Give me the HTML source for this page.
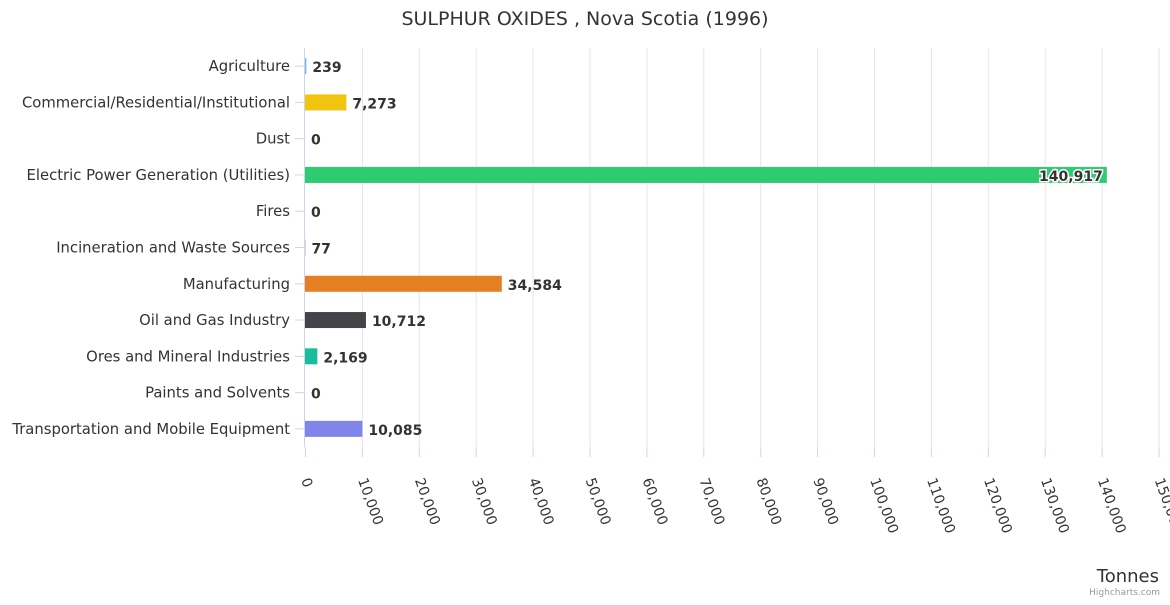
<!DOCTYPE html>
<html><head><meta charset="utf-8"><style>
body{margin:0;background:#fff;font-family:"Liberation Sans","DejaVu Sans",sans-serif}
svg text{font-family:"DejaVu Sans","Liberation Sans",sans-serif}
</style></head><body>
<svg id="c" width="1170" height="600" xmlns="http://www.w3.org/2000/svg">
<text x="585" y="25" text-anchor="middle" font-size="19" fill="#333">SULPHUR OXIDES , Nova Scotia (1996)</text>
<g id="grid"></g><g id="bars"></g><g id="cats"></g><g id="ticks"></g>
<text x="1159" y="582" text-anchor="end" font-size="18" fill="#333">Tonnes</text>
<text x="1160" y="595" text-anchor="end" font-size="9" fill="#999">Highcharts.com</text>
</svg>
<script>
const categories=["Agriculture","Commercial/Residential/Institutional","Dust","Electric Power Generation (Utilities)","Fires","Incineration and Waste Sources","Manufacturing","Oil and Gas Industry","Ores and Mineral Industries","Paints and Solvents","Transportation and Mobile Equipment"];
const values=[239,7273,0,140917,0,77,34584,10712,2169,0,10085];
const colors=["#7cb5ec","#f1c40f","#2c3e50","#2ecc71","#e74c3c","#95a5a6","#e67e22","#434348","#1abc9c","#8e44ad","#8085e9"];
const tickValues=[0,10000,20000,30000,40000,50000,60000,70000,80000,90000,100000,110000,120000,130000,140000,150000];
const X0=305,X1=1158.5,XMAX=150000,Y0=48,Y1=447;
const x=v=>X0+(X1-X0)*v/XMAX;
const step=(Y1-Y0)/categories.length;
const yc=i=>Y0+step*(i+0.5);
const NS="http://www.w3.org/2000/svg";
function mk(p,t,a){const e=document.createElementNS(NS,t);for(const k in a)e.setAttribute(k,a[k]);p.appendChild(e);return e;}
const fmt=v=>v.toLocaleString('en-US');
const g=document.getElementById('grid'),b=document.getElementById('bars'),c=document.getElementById('cats'),t=document.getElementById('ticks');
tickValues.forEach(v=>{
 if(v>0){const l=mk(g,'line',{x1:x(v)+.5,x2:x(v)+.5,y1:Y0,y2:Y1,stroke:'#e6e6e6'});
 
 }
 const tk=mk(t,'line',{x1:x(v)+.5,x2:x(v)+.5,y1:Y1,y2:Y1+10,stroke:'#ccd6eb'});
 
 
 const tx=mk(t,'text',{x:x(v)-4,y:Y1+33,'font-size':14,fill:'#333',transform:`rotate(70 ${x(v)-4} ${Y1+33})`});
 tx.textContent=fmt(v);
 
 
});
const ax=mk(g,'line',{x1:X0-.5,x2:X0-.5,y1:Y0,y2:Y1,stroke:'#ccd6eb'});


categories.forEach((cat,i)=>{
 const y=yc(i);
 const tk=mk(c,'line',{x1:X0-10,x2:X0,y1:y,y2:y,stroke:'#ccd6eb'});
 
 
 const lb=mk(c,'text',{x:X0-15,y:y+5,'text-anchor':'end','font-size':14.8,fill:'#333'});
 lb.textContent=cat;
 
 
 const w=x(values[i])-X0;
 const r=mk(b,'rect',{x:X0,y:y-8,width:Math.max(w,0),height:16,fill:colors[i]});
 
 
 const inside=w>600;
 const dl=mk(b,'text',{x:inside?x(values[i])-4:x(values[i])+6,y:y+6,'text-anchor':inside?'end':'start','font-size':14,'font-weight':'bold',fill:'#333',stroke:inside?'#fff':'none','stroke-width':inside?3:0,'paint-order':'stroke'});
 dl.textContent=fmt(values[i]);
 
 
});
</script>
</body></html>
